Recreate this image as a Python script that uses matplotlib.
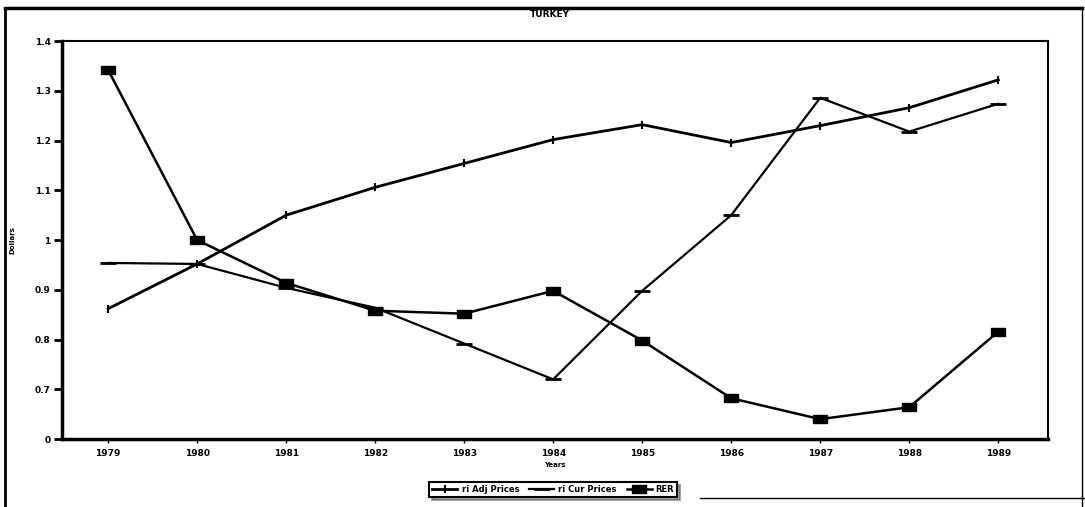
#!/usr/bin/env python3
"""Turkey: relative prices and real exchange rate, 1979-1989."""

import matplotlib
matplotlib.use("Agg")
import matplotlib.pyplot as plt
from matplotlib.lines import Line2D

years = [1979, 1980, 1981, 1982, 1983, 1984, 1985, 1986, 1987, 1988, 1989]
adj_prices = [0.862, 0.952, 1.050, 1.106, 1.154, 1.202, 1.232, 1.196, 1.230, 1.266, 1.322]
cur_prices = [0.954, 0.952, 0.904, 0.864, 0.792, 0.720, 0.898, 1.050, 1.286, 1.218, 1.274]
rer = [1.342, 1.000, 0.914, 0.858, 0.852, 0.898, 0.798, 0.682, 0.640, 0.664, 0.816]
y_ticks = [0.6, 0.7, 0.8, 0.9, 1.0, 1.1, 1.2, 1.3, 1.4]
y_labels = ["0", "0.7", "0.8", "0.9", "1", "1.1", "1.2", "1.3", "1.4"]

rect = [(-1, -0.55), (1, -0.55), (1, 0.55), (-1, 0.55), (-1, -0.55)]

fig = plt.figure(figsize=(10.85, 5.07), dpi=100)
ax = fig.add_axes([0.057, 0.134, 0.909, 0.785])

ax.plot(years, adj_prices, color="black", lw=2, marker="|", ms=6, mew=1.5,
        label="ri Adj Prices")
ax.plot(years, cur_prices, color="black", lw=1.6, marker="_", ms=11, mew=2,
        label="ri Cur Prices")
ax.plot(years, rer, color="black", lw=1.8, marker=rect, ms=10,
        label="RER")

ax.set_xlim(1978.48, 1989.56)
ax.set_ylim(0.6, 1.4)
ax.set_xticks(years)
ax.set_xticklabels([str(y) for y in years], fontsize=6.5, fontweight="bold")
ax.set_yticks(y_ticks)
ax.set_yticklabels(y_labels, fontsize=6.5, fontweight="bold")
ax.tick_params(axis="y", length=6, width=2, pad=2)
ax.tick_params(axis="x", length=3, width=1, pad=4)
for side in ax.spines.values():
    side.set_linewidth(1.5)
ax.spines["left"].set_linewidth(2.5)
ax.spines["bottom"].set_linewidth(2.5)

ax.set_xlabel("Years", fontsize=5, fontweight="bold", labelpad=3)
ax.set_ylabel("Dollars", fontsize=5, fontweight="bold", labelpad=14)
fig.text(0.507, 0.972, "TURKEY", ha="center", va="center",
         fontsize=6.5, fontweight="bold")

# page frame of the scanned chart
fig.add_artist(Line2D([0.005, 0.997], [0.985, 0.985], color="black", lw=2.5,
                      transform=fig.transFigure))
fig.add_artist(Line2D([0.005, 0.005], [0.0, 0.985], color="black", lw=2,
                      transform=fig.transFigure))
fig.add_artist(Line2D([0.997, 0.997], [0.0, 0.985], color="black", lw=1,
                      transform=fig.transFigure))
fig.add_artist(Line2D([0.645, 1.0], [0.018, 0.018], color="black", lw=1,
                      transform=fig.transFigure))

leg = fig.legend(loc="center", bbox_to_anchor=(0.51, 0.034), ncol=3,
                 frameon=True, shadow=True, fancybox=False,
                 handlelength=3.0, columnspacing=1.2, borderpad=0.35,
                 handletextpad=0.5, prop={"weight": "bold", "size": 6})
leg.get_frame().set_edgecolor("black")
leg.get_frame().set_linewidth(1.5)

fig.savefig("out.png", dpi=100)
